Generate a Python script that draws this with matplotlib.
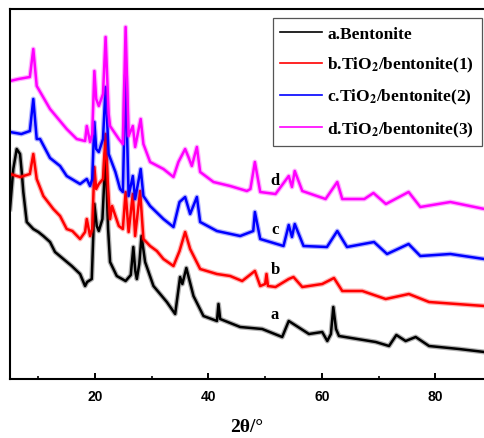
import matplotlib
matplotlib.use("Agg")
import matplotlib.pyplot as plt

# XRD patterns: 2-theta (deg) and intensity (a.u., curves offset vertically)
a_2theta = [5.0, 5.58, 6.18, 6.77, 7.07, 7.35, 7.95, 9.11, 10.0, 10.88, 12.06, 12.94,
            15.89, 17.36, 18.24, 18.6, 19.42, 19.88, 20.3, 20.66, 21.3, 21.86, 22.3, 22.65,
            23.83, 25.39, 26.3, 26.75, 27.1, 27.37, 27.8, 28.2, 28.83, 30.3, 32.66, 34.13,
            35.0, 35.4, 36.1, 37.36, 39.12, 41.5, 41.77, 42.07, 45.6, 49.48, 53.01, 54.16,
            57.73, 60.07, 60.96, 61.6, 62.02, 62.5, 63.02, 69.5, 71.85, 73.14, 74.78, 76.55,
            78.91, 84.2, 88.67]
a_int = [170, 210, 230, 225, 207, 187, 157, 150, 147, 143, 137, 127,
         113, 105, 93, 97, 100, 175, 153, 148, 160, 225, 150, 117,
         103, 98, 104, 132, 108, 100, 115, 143, 117, 93, 77, 65,
         102, 95, 111, 83, 63, 58, 75, 60, 52, 50, 42, 58,
         45, 47, 38, 45, 72, 50, 43, 37, 33, 44, 38, 42,
         33, 30, 27]

b_2theta = [5.0, 6.8, 8.5, 9.11, 9.71, 10.88, 12.64, 13.83, 15.0, 16.0, 17.36, 18.24,
            18.54, 19.12, 19.5, 19.88, 20.2, 20.66, 21.4, 21.86, 22.3, 22.65, 23.0, 24.19,
            24.9, 25.39, 25.92, 26.66, 27.07, 27.95, 28.53, 29.71, 30.9, 32.06, 33.83, 34.9,
            35.89, 36.77, 38.54, 41.49, 43.83, 45.95, 48.19, 49.13, 50.0, 50.24, 50.5, 51.83,
            54.16, 55.0, 56.55, 60.07, 62.14, 63.6, 67.14, 71.26, 75.35, 78.91, 88.67]
b_int = [205, 202, 205, 225, 200, 183, 170, 163, 150, 148, 140, 147,
         160, 143, 150, 212, 190, 195, 200, 245, 190, 160, 173, 153,
         150, 187, 147, 185, 143, 188, 140, 133, 128, 120, 113, 128,
         147, 130, 110, 105, 103, 98, 108, 93, 95, 105, 93, 92,
         100, 102, 92, 95, 101, 88, 88, 80, 85, 77, 73]

c_2theta = [5.0, 7.0, 8.5, 9.11, 9.71, 10.3, 12.06, 13.83, 15.0, 17.36, 18.54, 19.12,
            19.5, 19.88, 20.2, 20.66, 21.4, 21.86, 22.4, 23.59, 24.42, 24.9, 25.39, 25.92,
            26.66, 27.07, 28.05, 28.53, 29.71, 32.06, 33.83, 34.9, 35.89, 36.77, 37.96, 38.54,
            41.49, 45.6, 47.9, 48.19, 49.13, 53.24, 54.16, 54.73, 55.22, 56.77, 60.9, 62.72,
            64.44, 69.2, 71.5, 75.3, 77.37, 82.67, 88.6]
c_int = [247, 245, 248, 280, 240, 240, 221, 213, 203, 195, 200, 193,
         200, 257, 230, 227, 240, 292, 225, 207, 190, 187, 303, 183,
         203, 180, 210, 183, 173, 160, 152, 177, 182, 165, 182, 157,
         148, 143, 148, 167, 140, 133, 154, 142, 155, 133, 132, 148,
         132, 137, 125, 135, 123, 125, 120]

d_2theta = [5.0, 6.5, 8.5, 9.11, 9.71, 12.06, 15.0, 16.77, 18.24, 18.54, 19.12, 19.5,
            19.88, 20.2, 20.66, 21.4, 21.86, 22.4, 22.65, 23.0, 24.19, 24.9, 25.39, 25.92,
            26.66, 27.07, 28.05, 28.53, 29.71, 32.06, 33.83, 34.7, 35.89, 36.47, 37.07, 37.96,
            38.54, 40.89, 43.83, 46.78, 47.4, 48.19, 49.13, 51.83, 54.16, 54.73, 55.22, 56.55,
            60.66, 62.72, 63.6, 67.5, 69.1, 71.3, 75.3, 77.37, 82.67, 88.67]
d_int = [298, 300, 302, 330, 293, 270, 250, 240, 238, 253, 237, 245,
         308, 280, 273, 285, 342, 265, 253, 250, 240, 235, 352, 243,
         253, 232, 260, 235, 217, 210, 202, 217, 230, 222, 213, 232,
         207, 197, 193, 188, 190, 217, 187, 185, 203, 192, 208, 188,
         180, 197, 180, 180, 186, 175, 187, 172, 177, 170]

series_labels = [r"a.Bentonite",
                 r"b.TiO$_\mathbf{2}$/bentonite(1)",
                 r"c.TiO$_\mathbf{2}$/bentonite(2)",
                 r"d.TiO$_\mathbf{2}$/bentonite(3)"]
series_letters = ["a", "b", "c", "d"]
letter_pos = [(51.6, 65), (51.8, 110), (51.8, 150), (51.8, 199)]
colors = ["#000000", "#ff0000", "#0000ff", "#ff00ff"]

x_major = [20, 40, 60, 80]
x_minor = [10, 30, 50, 70]

plt.rcParams["mathtext.fontset"] = "stix"

fig = plt.figure(figsize=(4.84, 4.39), dpi=100)
ax = fig.add_axes([10 / 484, 59 / 439, 474 / 484, 370 / 439])

xs = [a_2theta, b_2theta, c_2theta, d_2theta]
ys = [a_int, b_int, c_int, d_int]
handles = []
for x, y, col, lab in zip(xs, ys, colors, series_labels):
    ax.plot(x, y, color=col, lw=3.6, alpha=0.3, solid_joinstyle="round")
    h, = ax.plot(x, y, color=col, lw=1.8, label=lab, solid_joinstyle="round")
    handles.append(h)

for (px, py), t in zip(letter_pos, series_letters):
    ax.text(px, py, t, fontfamily="Liberation Serif", fontweight="bold",
            fontsize=12, ha="center", va="center")

ax.set_xlim(5, 88.6)
ax.set_ylim(0, 370)
ax.set_xticks(x_major)
ax.set_xticks(x_minor, minor=True)
ax.set_yticks([])
ax.tick_params(axis="x", which="major", direction="in", length=4, width=1.4,
               pad=7, labelsize=10)
ax.tick_params(axis="x", which="minor", direction="in", length=2.5, width=1.2)
for lbl in ax.get_xticklabels():
    lbl.set_fontweight("bold")
    lbl.set_fontfamily("Liberation Sans")

ax.spines["right"].set_visible(False)
for s in ["left", "top", "bottom"]:
    ax.spines[s].set_linewidth(1.5)

ax.set_xlabel("2θ/°", fontfamily="Liberation Serif", fontweight="bold",
              fontsize=14, labelpad=11)

leg = ax.legend(handles=handles, loc="upper right",
                bbox_to_anchor=(472 / 474, 361 / 370), borderaxespad=0,
                fancybox=False, edgecolor="#555555", framealpha=1,
                handlelength=2.4, handletextpad=0.3, labelspacing=0.75,
                borderpad=0.45,
                prop={"family": "Liberation Serif", "weight": "bold", "size": 12.5})
leg.get_frame().set_linewidth(0.9)
for lh in leg.get_lines():
    lh.set_linewidth(1.2)

fig.savefig("out.png", dpi=100)
